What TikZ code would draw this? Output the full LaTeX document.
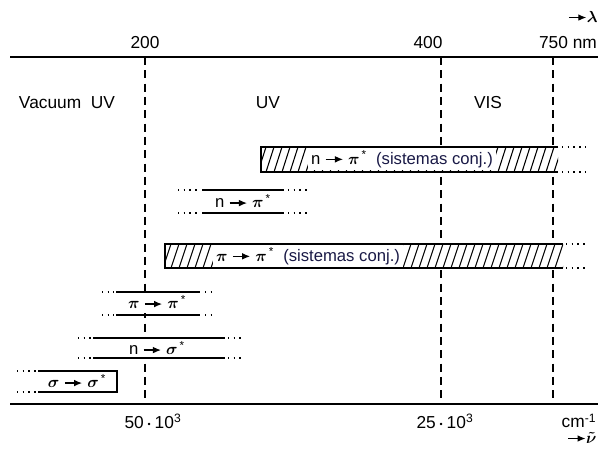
\documentclass[tikz,border=0pt]{standalone}
\usepackage{amsmath,amssymb}
\usepackage{fontspec}
\setmainfont{Liberation Sans}
\usetikzlibrary{arrows.meta}
\usepackage{xcolor}
\definecolor{conjblue}{RGB}{25, 25, 70}

% short arrow with a filled head, as in the transition labels
\newcommand{\tarr}{\tikz[baseline=-0.55ex]\draw[line width=0.9pt, -{Latex[length=6pt, width=5pt]}] (0pt,0pt) -- (13pt,0pt);}
\newcommand{\tpi}{$\boldsymbol{\pi}$}
\newcommand{\tsig}{$\boldsymbol{\sigma}$}
\newcommand{\st}{\textsuperscript{\,*}}

\begin{document}
\begin{tikzpicture}[x=0.75pt, y=-0.75pt, >=Latex,
    lbl/.style={font=\fontsize{13}{15}\selectfont, inner sep=1pt},
    tlbl/.style={font=\fontsize{12.5}{15}\selectfont, inner xsep=2pt, inner ysep=3pt, fill=white},
    band/.style={line width=1.1pt},
    dots/.style={line width=1.1pt, dash pattern=on 1.1pt off 3.2pt},
    hatch/.style={line width=0.8pt}]
  \useasboundingbox (0,0) rectangle (608,449);
  % wavelength / wavenumber axes
  \draw[line width=1.3pt] (10,57) -- (598,57);
  \draw[line width=1.1pt] (10,404) -- (598,404);
  \foreach \x in {145, 441, 553} {
    \draw[line width=1pt, dash pattern=on 6pt off 4pt] (\x,57) -- (\x,404);
  }
  \node[lbl] (t200) at (145,43) {200};
  \node[lbl] (t400) at (428,43) {400};
  \node[lbl] (t750) at (568,43) {750 nm};
  \node[lbl] (lam) at (583,17) {\tarr$\boldsymbol{\lambda}$};
  \node[lbl] (b50) at (153,421) {50\,$\boldsymbol{\cdot}$\,10\textsuperscript{3}};
  \node[lbl] (b25) at (445,421) {25\,$\boldsymbol{\cdot}$\,10\textsuperscript{3}};
  \node[lbl] (bcm) at (579,421) {cm\textsuperscript{-1}};
  \node[lbl] (nu) at (582,438) {\tarr$\boldsymbol{\tilde{\nu}}$};
  % regions
  \node[lbl] (vuv) at (67,103) {Vacuum\ \ UV};
  \node[lbl] (uv) at (268,103) {UV};
  \node[lbl] (vis) at (488,103) {VIS};

  % n -> pi* (conjugated), hatched
  \fill[white] (261,147) rectangle (558,172);
  \begin{scope}
    \clip (261,147) rectangle (558,172);
    \foreach \x in {250,258,...,566} {
      \draw[hatch] (\x,172) -- (\x+8,147);
    }
  \end{scope}
  \node[tlbl, inner ysep=1.5pt] (npiconj) at (402,159) {n \tarr\ \tpi\st\ \ \textcolor{conjblue}{(sistemas conj.)}};
  \draw[band] (558,147) -- (261,147) -- (261,172) -- (558,172);
  \draw[dots] (562,147) -- (588,147);
  \draw[dots] (562,172) -- (588,172);

  % n -> pi*
  \node[tlbl] (npi) at (243,201) {n \tarr\ \tpi\st};
  \draw[band] (202,190) -- (284,190);
  \draw[band] (202,213) -- (284,213);
  \draw[dots] (178,190) -- (200,190);
  \draw[dots] (178,213) -- (200,213);
  \draw[dots] (288,190) -- (308,190);
  \draw[dots] (288,213) -- (308,213);

  % pi -> pi* (conjugated), hatched
  \fill[white] (165,244) rectangle (563,268);
  \begin{scope}
    \clip (165,244) rectangle (563,268);
    \foreach \x in {155,163,...,570} {
      \draw[hatch] (\x,268) -- (\x+8,244);
    }
  \end{scope}
  \node[tlbl, inner ysep=1.5pt] (pipiconj) at (308,256) {\tpi\ \tarr\ \tpi\st\ \ \textcolor{conjblue}{(sistemas conj.)}};
  \draw[band] (563,244) -- (165,244) -- (165,268) -- (563,268);
  \draw[dots] (566,244) -- (588,244);
  \draw[dots] (566,268) -- (588,268);

  % pi -> pi*
  \node[tlbl] (pipi) at (157,302) {\tpi\ \tarr\ \tpi\st};
  \draw[band] (116,292) -- (200,292);
  \draw[band] (116,315) -- (200,315);
  \draw[dots] (102,292) -- (114,292);
  \draw[dots] (102,315) -- (114,315);
  \draw[dots] (205,292) -- (214,292);
  \draw[dots] (205,315) -- (214,315);

  % n -> sigma*
  \node[tlbl] (nsig) at (157,348) {n \tarr\ \tsig\st};
  \draw[band] (93,338) -- (225,338);
  \draw[band] (93,358) -- (225,358);
  \draw[dots] (78,338) -- (91,338);
  \draw[dots] (78,358) -- (91,358);
  \draw[dots] (228,338) -- (241,338);
  \draw[dots] (228,358) -- (241,358);

  % sigma -> sigma*
  \node[tlbl, inner ysep=1.5pt] (sigsig) at (77,381) {\tsig\ \tarr\ \tsig\st};
  \draw[band] (38,371) -- (117,371) -- (117,392) -- (38,392);
  \draw[dots] (17,371) -- (36,371);
  \draw[dots] (17,392) -- (36,392);
\end{tikzpicture}
\end{document}
